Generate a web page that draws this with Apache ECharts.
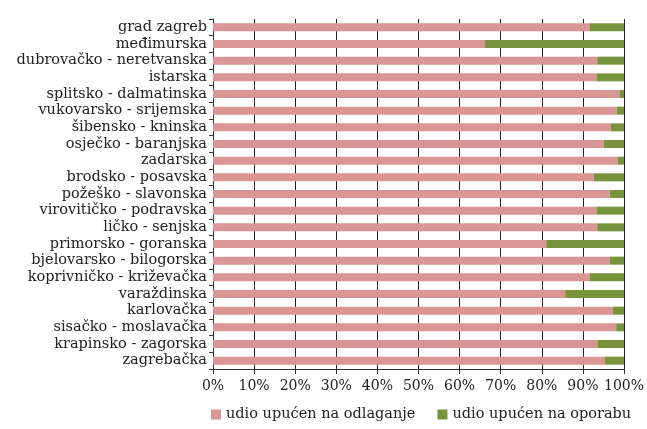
<!DOCTYPE html>
<html><head><meta charset="utf-8">
<script src="https://cdn.jsdelivr.net/npm/echarts@6/dist/echarts.min.js"></script>
<style>html,body{margin:0;padding:0;background:#fff}#c{width:647px;height:429px}</style>
</head><body><div id="c"></div>
<script>
const categories = ["grad zagreb","međimurska","dubrovačko - neretvanska","istarska","splitsko - dalmatinska","vukovarsko - srijemska","šibensko - kninska","osječko - baranjska","zadarska","brodsko - posavska","požeško - slavonska","virovitičko - podravska","ličko - senjska","primorsko - goranska","bjelovarsko - bilogorska","koprivničko - križevačka","varaždinska","karlovačka","sisačko - moslavačka","krapinsko - zagorska","zagrebačka"];
const odlaganje = [91.6,66.2,93.5,93.3,98.9,98.2,96.8,95.1,98.5,92.7,96.5,93.3,93.5,81.1,96.6,91.6,85.7,97.3,98.1,93.5,95.4];
const oporaba = [8.4,33.8,6.5,6.7,1.1,1.8,3.2,4.9,1.5,7.3,3.5,6.7,6.5,18.9,3.4,8.4,14.3,2.7,1.9,6.5,4.6];
const xTicks = ["0%","10%","20%","30%","40%","50%","60%","70%","80%","90%","100%"];
const font = "DejaVu Serif";
const chart = echarts.init(document.getElementById('c'));
chart.setOption({
  animation:false,
  textStyle:{fontFamily:font},
  grid:{left:213,right:20,top:19,bottom:60},
  legend:{bottom:2,left:206,itemWidth:10,itemHeight:10,itemGap:22,icon:'rect',
    textStyle:{fontFamily:font,fontSize:14.5,color:'#222'}},
  xAxis:{type:'value',min:0,max:100,interval:10,
    axisLine:{show:true,lineStyle:{color:'#333'}},
    axisTick:{show:true,length:5,lineStyle:{color:'#333'}},
    splitLine:{show:true,lineStyle:{color:'#222',width:1}},
    axisLabel:{fontFamily:font,fontSize:14,color:'#222',margin:10,formatter:(v)=>xTicks[Math.round(v/10)]}},
  yAxis:{type:'category',inverse:true,data:categories,
    axisLine:{show:true,lineStyle:{color:'#333'}},
    axisTick:{show:true,length:4,lineStyle:{color:'#333'}},
    axisLabel:{interval:0,fontFamily:font,fontSize:14.5,color:'#222',margin:6}},
  series:[
    {name:'udio upućen na odlaganje',type:'bar',stack:'a',data:odlaganje,barWidth:8,itemStyle:{color:'#d99694'}},
    {name:'udio upućen na oporabu',type:'bar',stack:'a',data:oporaba,barWidth:8,itemStyle:{color:'#77933c'}}
  ]
});
</script></body></html>
